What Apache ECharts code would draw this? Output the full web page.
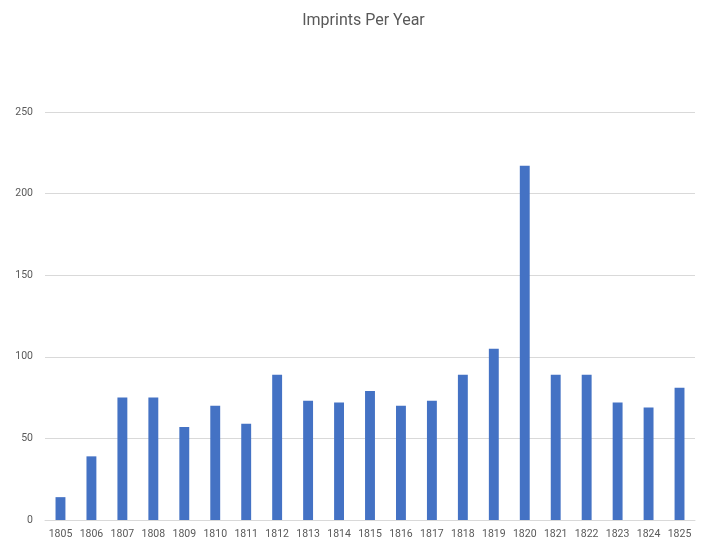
<!DOCTYPE html>
<html>
<head>
<meta charset="utf-8">
<script src="https://cdn.jsdelivr.net/npm/echarts@6/dist/echarts.min.js"></script>
<style>
html,body{margin:0;padding:0;background:#fff;}
#chart{width:727px;height:559px;}
</style>
</head>
<body>
<div id="chart"></div>
<script>
var categories = ['1805','1806','1807','1808','1809','1810','1811','1812','1813','1814','1815','1816','1817','1818','1819','1820','1821','1822','1823','1824','1825'];
var imprints = [14,39,75,75,57,70,59,89,73,72,79,70,73,89,105,217,89,89,72,69,81];
var yTicks = [0,50,100,150,200,250];

var chart = echarts.init(document.getElementById('chart'));
chart.setOption({
  animation: false,
  backgroundColor: '#ffffff',
  title: {
    text: 'Imprints Per Year',
    left: 'center',
    top: 8,
    textStyle: {fontFamily: 'Roboto', fontSize: 16, fontWeight: 'normal', color: '#595959'}
  },
  grid: {left: 45, right: 32, top: 112, bottom: 39, containLabel: false},
  xAxis: {
    type: 'category',
    data: categories,
    axisLine: {show: true, lineStyle: {color: '#d9d9d9'}},
    axisTick: {show: false},
    axisLabel: {fontFamily: 'Roboto', fontSize: 10.5, color: '#595959', margin: 9, interval: 0}
  },
  yAxis: {
    type: 'value',
    min: yTicks[0],
    max: yTicks[yTicks.length-1],
    interval: 50,
    axisLine: {show: false},
    axisTick: {show: false},
    splitLine: {lineStyle: {color: '#d9d9d9'}},
    axisLabel: {fontFamily: 'Roboto', fontSize: 10.5, color: '#595959', margin: 12}
  },
  series: [{
    type: 'bar',
    data: imprints,
    barWidth: '32%',
    itemStyle: {color: '#4472C4'}
  }]
});
</script>
</body>
</html>
